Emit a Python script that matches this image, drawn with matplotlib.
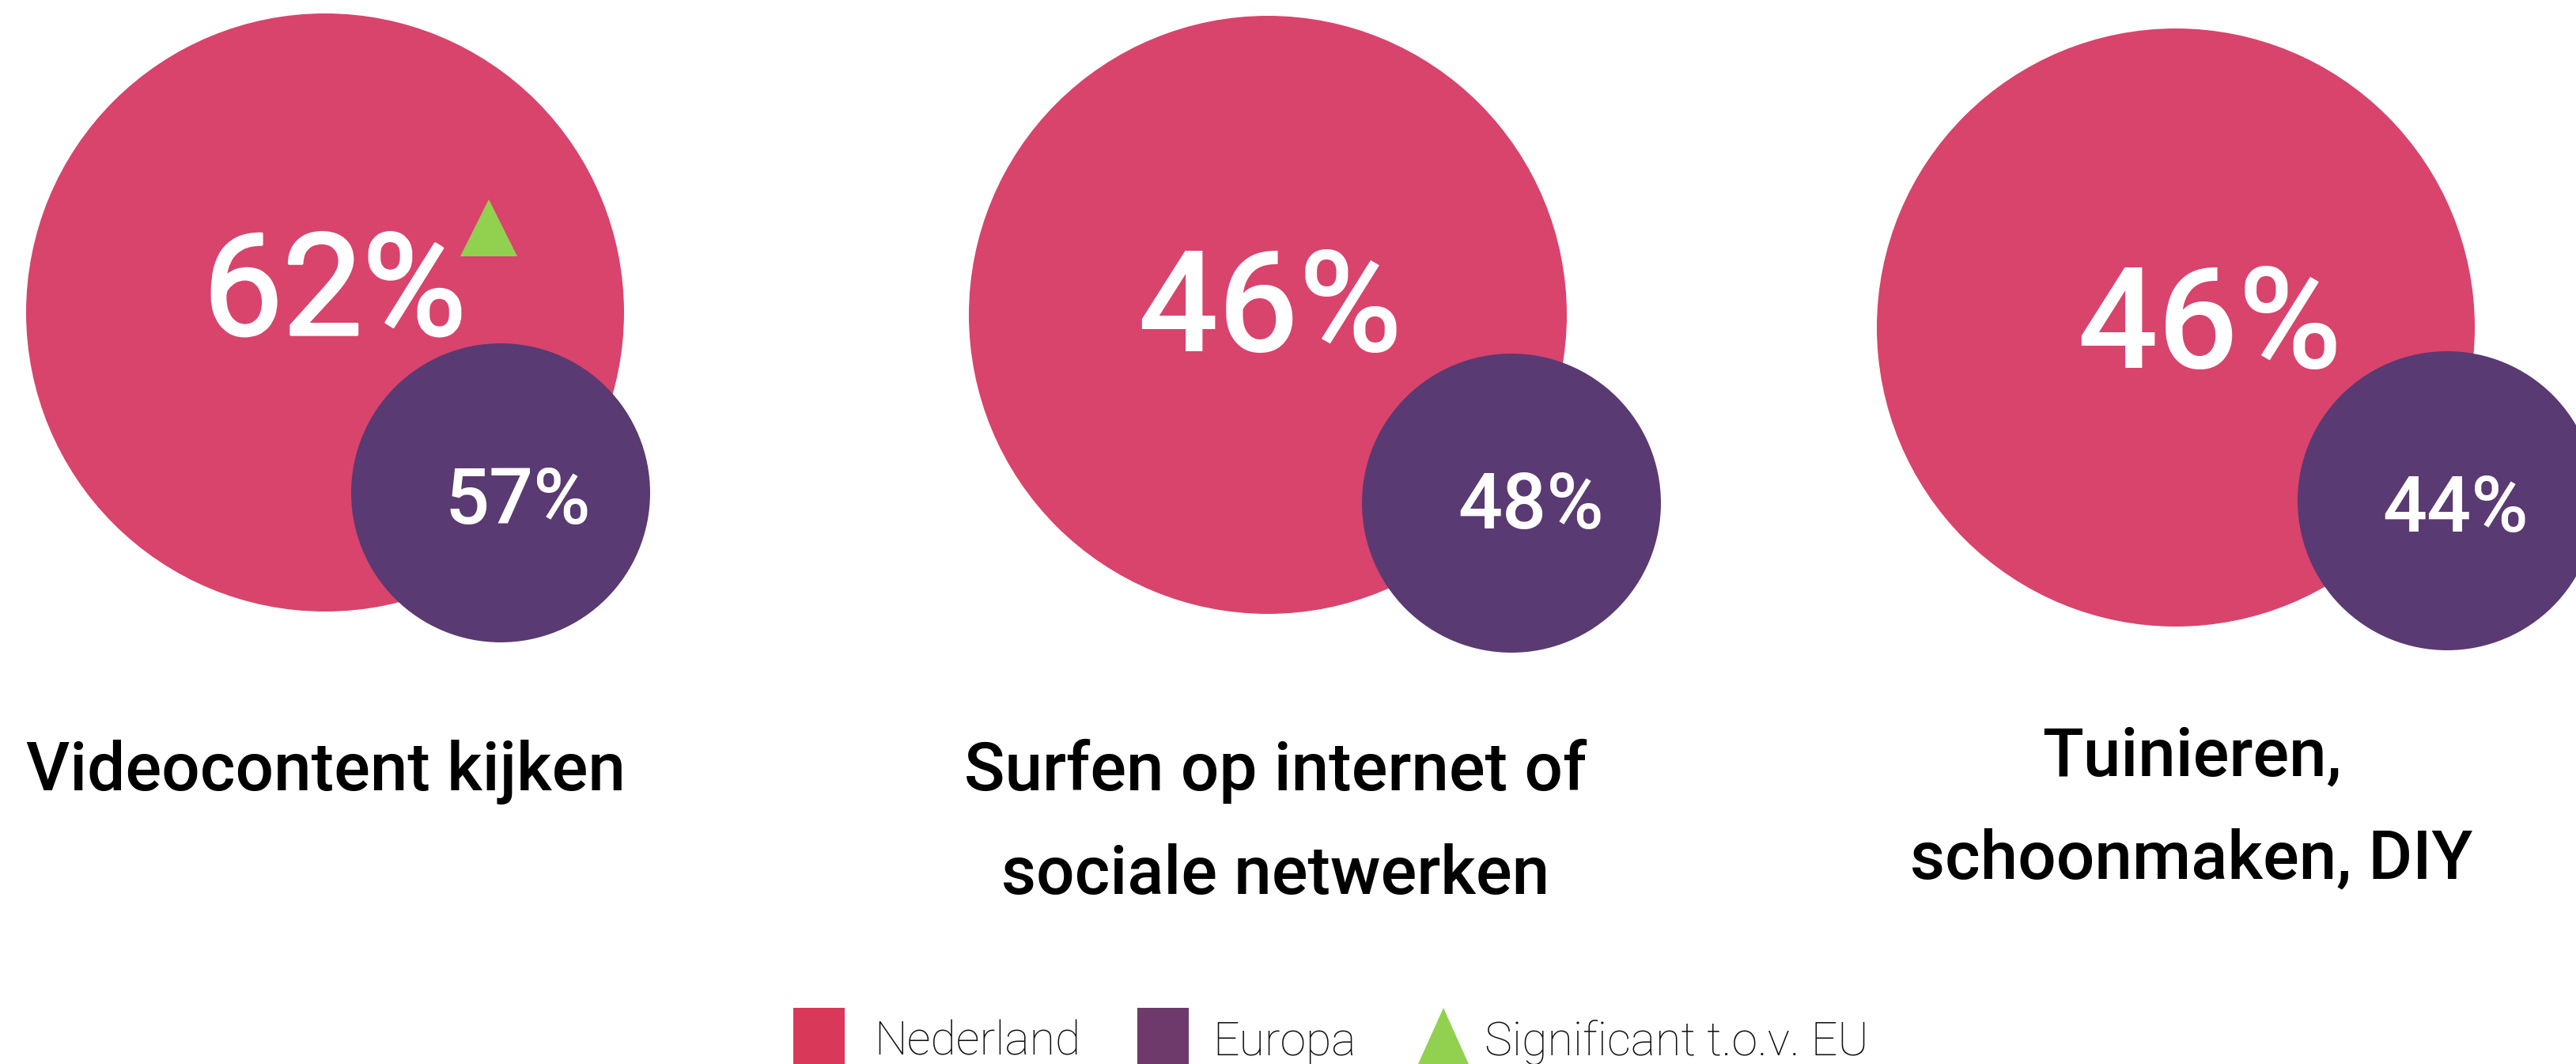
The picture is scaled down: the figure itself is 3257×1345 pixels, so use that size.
"""Bubble comparison: Nederland vs Europa per activity, with a significance marker."""
import matplotlib
matplotlib.use("Agg")
import matplotlib.pyplot as plt
import matplotlib.patheffects as pe
from matplotlib.patches import Circle, Rectangle, Polygon

W, H = 3257, 1345
DPI = 100

categories = ["Videocontent kijken", "Surfen op internet of\nsociale netwerken",
              "Tuinieren,\nschoonmaken, DIY"]
nl_values = [62, 46, 46]
eu_values = [57, 48, 44]
significant = [True, False, False]
legend_labels = ["Nederland", "Europa", "Significant t.o.v. EU"]

NL_COLOR = "#D8446C"
EU_COLOR = "#5A3A72"
NL_LEGEND = "#D93858"
EU_LEGEND = "#6E3A6C"
GREEN = "#92D050"

# layout (pixels, y downward)
nl_centers = [(411, 395), (1603, 398), (2751, 414)]
eu_centers = [(633, 623), (1911, 636), (3094, 633)]
nl_radius, eu_radius = 378, 189
nl_text = [(423, 423), (1606, 444), (2794, 465)]
eu_text = [(655, 662), (1936, 668), (3105, 672)]
nl_weight = [400, "medium", "medium"]
nl_extra = [2.5, 0, 0]   # first value is set a bit heavier than light
tri_center = (618, 288)
label_pos = [(412, [999]), (1613, [999, 1130]), (2771, [980, 1111])]

plt.rcParams["font.family"] = ["Roboto", "DejaVu Sans"]

fig = plt.figure(figsize=(W / DPI, H / DPI), dpi=DPI)
ax = fig.add_axes([0, 0, 1, 1])
ax.set_xlim(0, W)
ax.set_ylim(H, 0)
ax.set_aspect("equal")
ax.axis("off")


def triangle(ax, cx, cy, w, h, color):
    pts = [(cx - w / 2, cy + h / 2), (cx + w / 2, cy + h / 2), (cx, cy - h / 2)]
    ax.add_patch(Polygon(pts, closed=True, color=color, lw=0, zorder=5))


for i, cat in enumerate(categories):
    ax.add_patch(Circle(nl_centers[i], nl_radius, color=NL_COLOR, lw=0, zorder=1))
    ax.add_patch(Circle(eu_centers[i], eu_radius, color=EU_COLOR, lw=0, zorder=2))
    t = ax.text(*nl_text[i], f"{nl_values[i]}%", color="white", fontsize=129,
                fontweight=nl_weight[i], ha="center", va="baseline", zorder=3)
    if nl_extra[i]:
        t.set_path_effects([pe.withStroke(linewidth=nl_extra[i], foreground="white")])
    ax.text(*eu_text[i], f"{eu_values[i]}%", color="white", fontsize=71,
            fontweight="medium", ha="center", va="baseline", zorder=3)
    if significant[i]:
        triangle(ax, *tri_center, 72, 72, GREEN)
    x, ys = label_pos[i]
    for line, y in zip(cat.split("\n"), ys):
        ax.text(x, y, line, color="black", fontsize=61.5, fontweight="medium",
                ha="center", va="baseline")

# legend along the bottom edge
leg_y, leg_base = 1274, 1334
ax.add_patch(Rectangle((1003, leg_y), 65, 80, color=NL_LEGEND, lw=0))
ax.add_patch(Rectangle((1438, leg_y), 65, 80, color=EU_LEGEND, lw=0))
triangle(ax, 1825, leg_y + 40, 72, 80, GREEN)
for x, lab in zip([1105, 1533, 1877], legend_labels):
    ax.text(x, leg_base, lab, color="#111111", fontsize=42.5, fontweight="light",
            ha="left", va="baseline")

fig.savefig("out.png", dpi=DPI, facecolor="white")
